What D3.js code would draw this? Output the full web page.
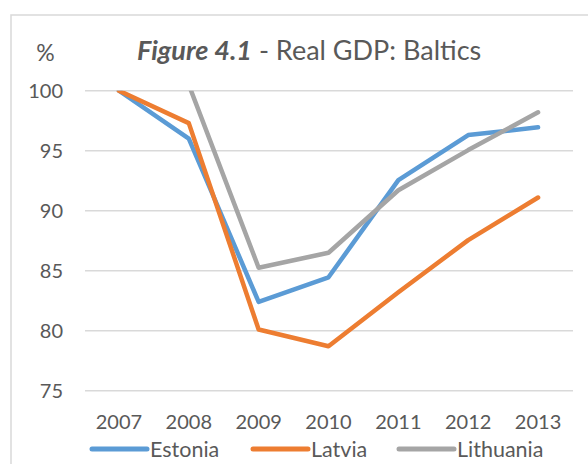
<!DOCTYPE html>
<html>
<head>
<meta charset="utf-8">
<script src="https://cdn.jsdelivr.net/npm/d3@7"></script>
<style>
  body { margin: 0; background: #fff; }
  svg { display: block; font-family: Lato, "Open Sans", sans-serif; }
</style>
</head>
<body>
<svg width="588" height="464"></svg>
<script>
var years = ["2007", "2008", "2009", "2010", "2011", "2012", "2013"];
var yTicks = [75, 80, 85, 90, 95, 100];

var estonia = [100, 96.0, 82.4, 84.45, 92.55, 96.3, 96.95];
var latvia = [100, 97.3, 80.1, 78.7, 83.2, 87.55, 91.1];
var lithuania = [100.6, 100.5, 85.25, 86.5, 91.7, 95.05, 98.2];

var seriesNames = ["Estonia", "Latvia", "Lithuania"];
var seriesColors = ["#5B9BD5", "#ED7D31", "#A5A5A5"];

var series = [estonia, latvia, lithuania].map(function(v, i) {
    return {name: seriesNames[i], color: seriesColors[i], values: v};
});

var svg = d3.select("svg");
var textColor = "#595959";

// outer frame (cut off on the right and bottom, like the picture)
svg.append("rect")
    .attr("x", 11)
    .attr("y", 15)
    .attr("width", 600)
    .attr("height", 480)
    .attr("fill", "none")
    .attr("stroke", "#D9D9D9")
    .attr("stroke-width", 1.5);

var x = d3.scaleBand()
    .domain(years)
    .range([84, 573]);

var y = d3.scaleLinear()
    .domain([75, 100])
    .range([390.7, 90.7]);

// gridlines
svg.append("g")
    .selectAll("line")
    .data(yTicks)
    .enter().append("line")
    .attr("x1", 85)
    .attr("x2", 573)
    .attr("y1", function(d) { return y(d); })
    .attr("y2", function(d) { return y(d); })
    .attr("stroke", "#D9D9D9")
    .attr("stroke-width", 1.5);

// y axis labels
var yAxis = svg.append("g")
    .attr("transform", "translate(63,0)")
    .call(d3.axisLeft(y).tickValues(yTicks).tickSize(0).tickPadding(0));
yAxis.select(".domain").remove();
yAxis.selectAll("text")
    .attr("fill", textColor)
    .style("font-size", "20px")
    .style("font-family", "Lato");

// x axis labels
var xAxis = svg.append("g")
    .attr("transform", "translate(0,408)")
    .call(d3.axisBottom(x).tickSize(0).tickPadding(0));
xAxis.select(".domain").remove();
xAxis.selectAll("text")
    .attr("fill", textColor)
    .attr("dy", "0")
    .attr("y", 21)
    .style("font-size", "20px")
    .style("font-family", "Lato");

// clip lines to the plot area
svg.append("clipPath")
    .attr("id", "plotclip")
    .append("rect")
    .attr("x", 60)
    .attr("y", y(100))
    .attr("width", 528)
    .attr("height", y(75) - y(100) + 20);

var line = d3.line()
    .x(function(d, i) { return x(years[i]) + x.bandwidth() / 2; })
    .y(function(d) { return y(d); });

svg.append("g")
    .attr("clip-path", "url(#plotclip)")
    .selectAll("path")
    .data(series)
    .enter().append("path")
    .attr("d", function(d) { return line(d.values); })
    .attr("fill", "none")
    .attr("stroke", function(d) { return d.color; })
    .attr("stroke-width", 4.5)
    .attr("stroke-linejoin", "round")
    .attr("stroke-linecap", "round");

// title
var title = svg.append("text")
    .attr("x", 137)
    .attr("y", 60)
    .attr("fill", textColor)
    .style("font-size", "27px");
title.append("tspan")
    .style("font-weight", "bold")
    .style("font-style", "italic")
    .text("Figure 4.1");
title.append("tspan")
    .text(" - Real GDP: Baltics");

svg.append("text")
    .attr("x", 45.5)
    .attr("y", 61)
    .attr("text-anchor", "middle")
    .attr("fill", textColor)
    .style("font-size", "23px")
    .text("%");

// legend
var legendX = [92, 253, 399];
var legend = svg.append("g")
    .selectAll("g")
    .data(series)
    .enter().append("g")
    .attr("transform", function(d, i) { return "translate(" + legendX[i] + ",449)"; });

legend.append("line")
    .attr("x1", 0)
    .attr("x2", 55)
    .attr("stroke", function(d) { return d.color; })
    .attr("stroke-width", 5)
    .attr("stroke-linecap", "round");

legend.append("text")
    .attr("x", 58)
    .attr("y", 7.5)
    .attr("fill", textColor)
    .style("font-size", "21.5px")
    .text(function(d) { return d.name; });
</script>
</body>
</html>
